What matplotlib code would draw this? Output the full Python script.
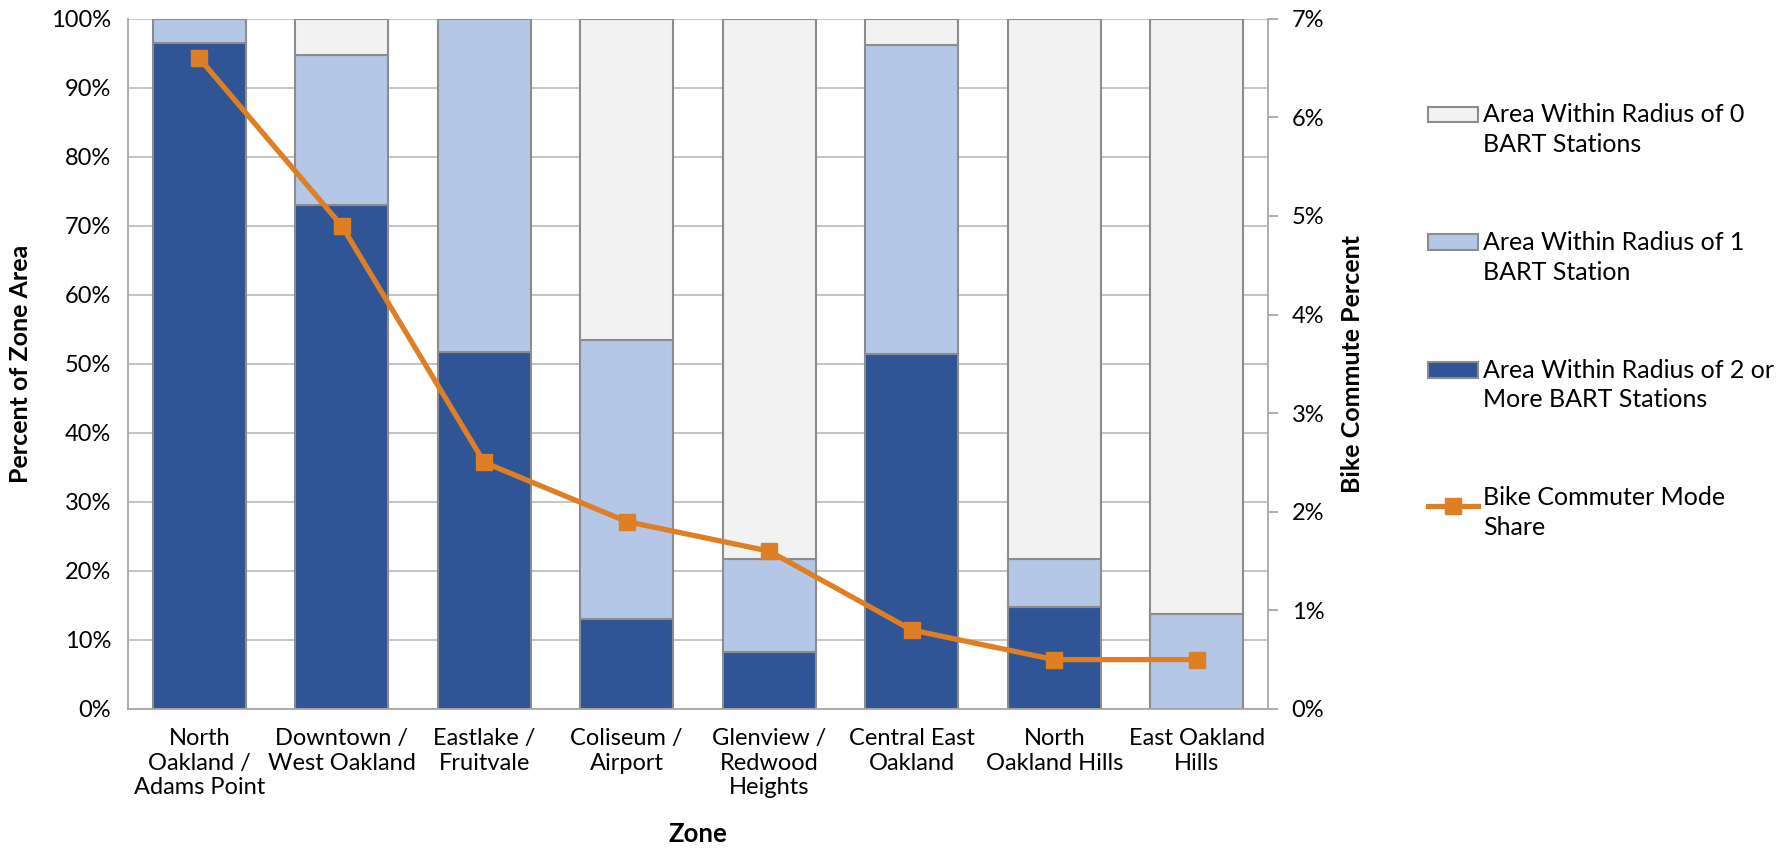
import matplotlib
matplotlib.use("Agg")
from matplotlib import pyplot as plt
from matplotlib.ticker import PercentFormatter
from matplotlib.legend_handler import HandlerPatch, HandlerLine2D
import numpy as np

plt.rcParams['font.family'] = ['Lato', 'DejaVu Sans']

# zonas y valores
zonas = ["North\nOakland /\nAdams Point", "Downtown /\nWest Oakland", "Eastlake /\nFruitvale",
         "Coliseum /\nAirport", "Glenview /\nRedwood\nHeights", "Central East\nOakland",
         "North\nOakland Hills", "East Oakland\nHills"]
radio_2mas = [96.5, 73.0, 51.7, 13.0, 8.2, 51.4, 14.8, 0.0]
radio_1 = [3.5, 21.7, 48.3, 40.4, 13.5, 44.8, 6.9, 13.7]
radio_0 = [0.0, 5.3, 0.0, 46.6, 78.3, 3.8, 78.3, 86.3]
bici = [6.6, 4.9, 2.5, 1.9, 1.6, 0.8, 0.5, 0.5]

etiquetas = ["Area Within Radius of 0\nBART Stations",
             "Area Within Radius of 1\nBART Station",
             "Area Within Radius of 2 or\nMore BART Stations",
             "Bike Commuter Mode\nShare"]

azul = "#2F5597"
celeste = "#B4C7E7"
gris = "#F2F2F2"
borde = "#8C8C8C"
naranja = "#DE7F25"

# desplazamiento del simbolo de la leyenda hacia la primera linea
sube = 11.5


class PatchArriba(HandlerPatch):
    def create_artists(self, legend, orig, xd, yd, w, h, fs, trans):
        return super().create_artists(legend, orig, xd, yd - sube, w, h, fs, trans)


class LineaArriba(HandlerLine2D):
    def create_artists(self, legend, orig, xd, yd, w, h, fs, trans):
        return super().create_artists(legend, orig, xd, yd - sube, w, h, fs, trans)


fig = plt.figure(figsize=(17.87, 8.5), dpi=100)
ax = fig.add_axes([0.0716, 0.166, 0.638, 0.812])
x = np.arange(len(zonas))
w = 0.65

b2 = ax.bar(x, radio_2mas, w, color=azul, edgecolor=borde, lw=1.5, zorder=2)
b1 = ax.bar(x, radio_1, w, bottom=radio_2mas, color=celeste, edgecolor=borde, lw=1.5, zorder=2)
abajo = np.array(radio_2mas) + np.array(radio_1)
b0 = ax.bar(x, radio_0, w, bottom=abajo, color=gris, edgecolor=borde, lw=1.5, zorder=2)

ax.set_ylim(0, 100)
ax.set_xlim(-0.5, len(zonas) - 0.5)
ax.set_yticks(np.arange(0, 101, 10))
ax.yaxis.set_major_formatter(PercentFormatter(decimals=0))
ax.grid(axis='y', color="#BFBFBF", lw=1.3, zorder=0)
ax.set_axisbelow(True)
ax.set_xticks(x)
ax.set_xticklabels(zonas, fontsize=17, linespacing=1.2)
ax.tick_params(axis='x', length=0, pad=14)
ax.tick_params(axis='y', length=0, labelsize=17, pad=12)
for s in ['top', 'right']:
    ax.spines[s].set_visible(False)
for s in ['left', 'bottom']:
    ax.spines[s].set_color("#A6A6A6")
    ax.spines[s].set_linewidth(1.3)
ax.set_ylabel("Percent of Zone Area", fontsize=18, fontweight='bold', labelpad=14)
ax.set_xlabel("Zone", fontsize=18.5, fontweight='bold', labelpad=17)

ax2 = ax.twinx()
linea, = ax2.plot(x, bici, color=naranja, lw=3.8, marker='s', ms=11, zorder=5)
ax2.set_ylim(0, 7)
ax2.set_yticks(np.arange(0, 8, 1))
ax2.yaxis.set_major_formatter(PercentFormatter(decimals=0))
ax2.tick_params(axis='y', length=7, color="#A6A6A6", width=1.3, labelsize=17, pad=10)
for s in ['top', 'left', 'bottom']:
    ax2.spines[s].set_visible(False)
ax2.spines['right'].set_color("#A6A6A6")
ax2.spines['right'].set_linewidth(1.3)
ax2.set_ylabel("Bike Commute Percent", fontsize=18, fontweight='bold', labelpad=12)

ph = PatchArriba()
asas = [b0.patches[0], b1.patches[0], b2.patches[0], linea]
leg = fig.legend(asas, etiquetas, loc='upper left',
                 bbox_to_anchor=(0.792, 0.893), frameon=False, fontsize=18,
                 borderpad=0, handlelength=2.0, handleheight=0.6,
                 handletextpad=0.2, labelspacing=3.0,
                 handler_map={asas[0]: ph, asas[1]: ph, asas[2]: ph, linea: LineaArriba()})
for t in leg.get_texts():
    t.set_linespacing(1.35)

fig.savefig("out.png", dpi=100)
